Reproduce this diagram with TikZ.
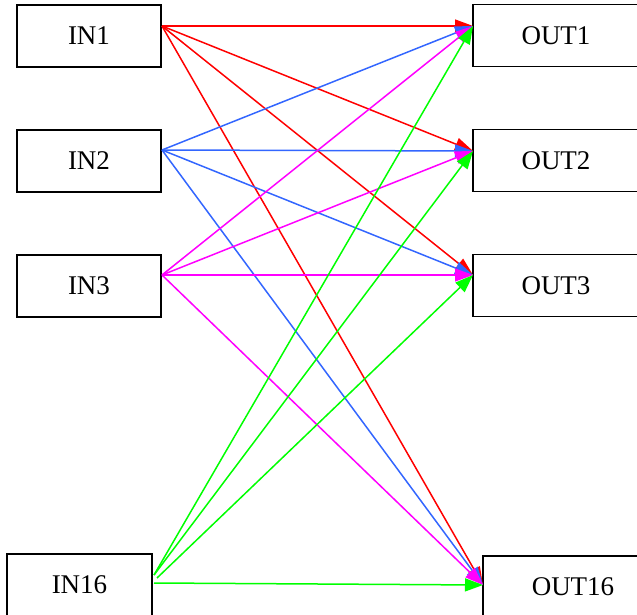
\documentclass[tikz,border=0pt]{standalone}
\usepackage{fontspec}
\setmainfont{Liberation Serif}
\usetikzlibrary{arrows.meta}

\definecolor{linkred}{RGB}{255,0,0}
\definecolor{linkblue}{RGB}{51,102,255}
\definecolor{linkmagenta}{RGB}{255,0,255}
\definecolor{linkgreen}{RGB}{0,255,0}

\tikzset{
  portbox/.style={draw=black, line width=1.4pt, rectangle, inner sep=0pt,
    minimum height=62pt, font=\fontsize{27}{31}\selectfont},
  inbox/.style={portbox, minimum width=144pt},
  outbox/.style={portbox, minimum width=166pt},
  link/.style={line width=1.5pt, -{Triangle[length=18pt,width=13pt]}},
}

\begin{document}
\begin{tikzpicture}[x=1pt,y=-1pt]
  \useasboundingbox (0,0) rectangle (637,615);
  \clip (0,0) rectangle (637,615);

  % input blocks
  \node[inbox] (in1)  at (89,36)  {IN1};
  \node[inbox] (in2)  at (89,161) {IN2};
  \node[inbox] (in3)  at (89,286) {IN3};
  \node[inbox, minimum width=145pt] (in16) at (79.5,585) {IN16};

  % output blocks
  \node[outbox] (out1)  at (556,35.5)  {OUT1};
  \node[outbox] (out2)  at (556,160.5) {OUT2};
  \node[outbox] (out3)  at (556,285.5) {OUT3};
  \node[outbox, minimum width=180pt] (out16) at (573,587) {OUT16};

  % connection points on the block edges
  \coordinate (s1)  at (162,26);
  \coordinate (s2)  at (162,150);
  \coordinate (s3)  at (162,275);
  \coordinate (s16a) at (154,575);
  \coordinate (s16b) at (157,578);
  \coordinate (s16c) at (154,583);
  \coordinate (t1)  at (473,26);
  \coordinate (t2)  at (473,151);
  \coordinate (t3)  at (473,275);
  \coordinate (t16) at (483,585);

  % IN1 fan-out
  \foreach \t in {t1,t2,t3,t16}
    \draw[link, linkred] (s1) -- (\t);
  % IN2 fan-out
  \foreach \t in {t1,t2,t3,t16}
    \draw[link, linkblue] (s2) -- (\t);
  % IN3 fan-out
  \foreach \t in {t1,t2,t3,t16}
    \draw[link, linkmagenta] (s3) -- (\t);
  % IN16 fan-out
  \draw[link, linkgreen] (s16a) -- (t1);
  \draw[link, linkgreen] (s16a) -- (t2);
  \draw[link, linkgreen] (s16b) -- (t3);
  \draw[link, linkgreen] (s16c) -- (t16);
\end{tikzpicture}
\end{document}
